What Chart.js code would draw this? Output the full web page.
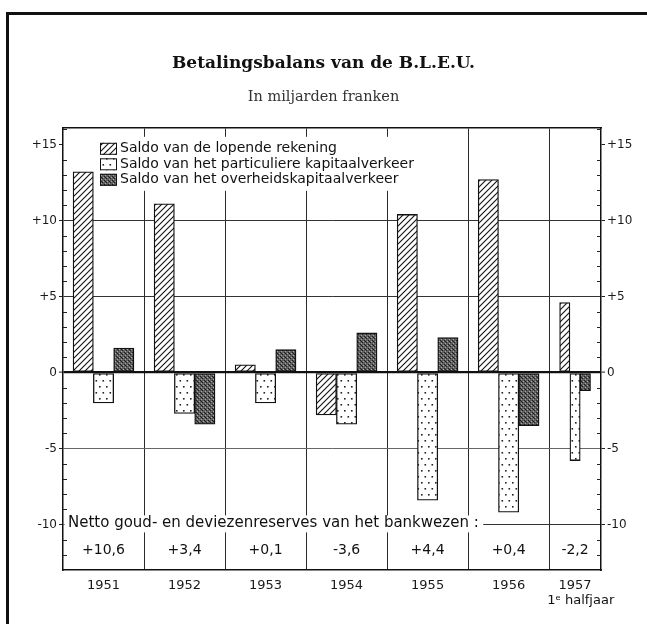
<!DOCTYPE html>
<html><head><meta charset="utf-8">
<script src="https://cdn.jsdelivr.net/npm/chart.js@4/dist/chart.umd.min.js"></script>
<style>html,body{margin:0;padding:0;background:#fff}canvas{display:block}</style>
</head><body>
<canvas id="c" width="647" height="624" style="width:647px;height:624px"></canvas>
<script>
// ---- data ----
const years = ['1951', '1952', '1953', '1954', '1955', '1956', '1957'];
const halfYearNote = '1ᵉ halfjaar';
const isHalfYear = [false, false, false, false, false, false, true];
const lopendeRekening = [13.2, 11.1, 0.5, -2.8, 10.4, 12.7, 4.6];
const particulierKapitaal = [-2.0, -2.7, -2.0, -3.4, -8.4, -9.2, -5.8];
const overheidsKapitaal = [1.6, -3.4, 1.5, 2.6, 2.3, -3.5, -1.2];
const nettoReserves = ['+10,6', '+3,4', '+0,1', '-3,6', '+4,4', '+0,4', '-2,2'];
const seriesNames = ['Saldo van de lopende rekening', 'Saldo van het particuliere kapitaalverkeer', 'Saldo van het overheidskapitaalverkeer'];
const reservesCaption = 'Netto goud- en deviezenreserves van het bankwezen :';
const yTickValues = [-10, -5, 0, 5, 10, 15];
const titleText = 'Betalingsbalans van de B.L.E.U.';
const subtitleText = 'In miljarden franken';

// ---- layout helpers ----
const HALF_COL = 0.64;
const X_MAX = 6 + HALF_COL;
const colCenter = i => isHalfYear[i] ? 6 + HALF_COL / 2 : i + 0.5;
const SANS = '"DejaVu Sans", sans-serif';

const canvas = document.getElementById('c');
const ctx0 = canvas.getContext('2d');
function makePattern(w, h, draw) {
  const c = document.createElement('canvas'); c.width = w; c.height = h;
  const g = c.getContext('2d'); draw(g, w, h);
  return ctx0.createPattern(c, 'repeat');
}
const hatch = makePattern(6, 6, (g, w, h) => {
  g.fillStyle = '#fff'; g.fillRect(0, 0, w, h);
  g.strokeStyle = '#111'; g.lineWidth = 1.1;
  g.beginPath();
  g.moveTo(-1, h + 1); g.lineTo(w + 1, -1);
  g.moveTo(-1, 1); g.lineTo(1, -1);
  g.moveTo(w - 1, h + 1); g.lineTo(w + 1, h - 1);
  g.stroke();
});
const dots = makePattern(7, 12, (g, w, h) => {
  g.fillStyle = '#fff'; g.fillRect(0, 0, w, h);
  g.fillStyle = '#222';
  g.fillRect(1, 2, 1.6, 1.6);
  g.fillRect(4.5, 8, 1.6, 1.6);
});
const dark = makePattern(4, 4, (g, w, h) => {
  g.fillStyle = '#5e5e5e'; g.fillRect(0, 0, w, h);
  g.fillStyle = '#1e1e1e'; g.fillRect(0, 0, 1, 1); g.fillRect(2, 2, 1, 1); g.fillRect(1, 1, 1, 1);
  g.fillStyle = '#a8a8a8'; g.fillRect(1, 3, 1, 1); g.fillRect(3, 1, 1, 1);
});
const fills = [hatch, dots, dark];
const seriesValues = [lopendeRekening, particulierKapitaal, overheidsKapitaal];

const datasets = [];
[false, true].forEach(half => {
  seriesValues.forEach((vals, s) => {
    datasets.push({
      label: seriesNames[s],
      data: years.map((yr, i) => ({ x: colCenter(i), y: isHalfYear[i] === half ? vals[i] : null })),
      backgroundColor: fills[s],
      borderColor: '#111',
      borderWidth: 1.3,
      borderSkipped: false,
      barThickness: half ? 10.3 : 20.3,
      skipNull: true,
      grouped: true
    });
  });
});

const decor = {
  id: 'decor',
  afterDatasetsDraw(chart) {
    const { ctx, chartArea, scales } = chart;
    const y = scales.y, x = scales.x;
    ctx.save();
    // minor ticks inside both axes
    ctx.strokeStyle = '#222'; ctx.lineWidth = 1;
    ctx.beginPath();
    for (let v = -12; v <= 16; v++) {
      if (v % 5 === 0) continue;
      const py = Math.round(y.getPixelForValue(v)) + 0.5;
      ctx.moveTo(chartArea.left, py); ctx.lineTo(chartArea.left + 4, py);
      ctx.moveTo(chartArea.right - 4, py); ctx.lineTo(chartArea.right, py);
    }
    ctx.stroke();
    // caption of reserves row
    const capY = y.getPixelForValue(-10);
    ctx.font = '15px ' + SANS;
    const w = ctx.measureText(reservesCaption).width;
    ctx.fillStyle = '#fff';
    ctx.fillRect(chartArea.left + 1.5, capY - 9, w + 8, 17);
    ctx.fillStyle = '#111'; ctx.textBaseline = 'middle'; ctx.textAlign = 'left';
    ctx.fillText(reservesCaption, chartArea.left + 5, capY - 1);
    // reserves values
    const valY = y.getPixelForValue(-11.7);
    ctx.font = '14px ' + SANS;
    ctx.textAlign = 'center';
    nettoReserves.forEach((t, i) => ctx.fillText(t, x.getPixelForValue(colCenter(i)), valY));
    // legend
    const lx = chartArea.left + 34, ly = chartArea.top + 9;
    ctx.font = '14px ' + SANS;
    let maxW = 0;
    seriesNames.forEach(n => maxW = Math.max(maxW, ctx.measureText(n).width));
    ctx.fillStyle = '#fff';
    ctx.fillRect(lx, ly, maxW + 30, 54);
    seriesNames.forEach((n, s) => {
      const cy = ly + 12 + s * 15.5;
      ctx.fillStyle = fills[s];
      ctx.fillRect(lx + 3, cy - 6, 17, 12);
      ctx.strokeStyle = '#111'; ctx.lineWidth = 1;
      ctx.strokeRect(lx + 3.5, cy - 5.5, 16, 11);
      ctx.fillStyle = '#111'; ctx.textAlign = 'left'; ctx.textBaseline = 'middle';
      ctx.fillText(n, lx + 23, cy);
    });
    // half-year note
    ctx.font = '13px ' + SANS;
    ctx.textAlign = 'left';
    ctx.fillText(halfYearNote, x.getPixelForValue(6) - 2, chartArea.bottom + 31);
    ctx.restore();
  },
  afterDraw(chart) {
    const { ctx } = chart;
    ctx.save();
    ctx.strokeStyle = '#111'; ctx.lineWidth = 3;
    ctx.beginPath();
    ctx.moveTo(7.5, 624); ctx.lineTo(7.5, 13.5); ctx.lineTo(647, 13.5);
    ctx.stroke();
    ctx.restore();
  }
};

const yTickLabel = v => v > 0 ? '+' + v : String(v);
const yAxis = (position) => ({
  type: 'linear', position, min: -13, max: 16.1,
  afterBuildTicks: sc => { sc.ticks = yTickValues.map(v => ({ value: v })); },
  afterFit: sc => { sc.width = position === 'left' ? 63 : 46; },
  ticks: { callback: yTickLabel, color: '#1a1a1a', font: { family: SANS, size: 12 }, padding: 2 },
  grid: {
    drawOnChartArea: position === 'left',
    drawTicks: true, tickLength: 4, tickColor: '#222', tickWidth: 1,
    color: c => {
      const v = c.tick && c.tick.value;
      if (v === 0) return '#111';
      if (v === 15) return 'rgba(0,0,0,0)';
      if (v === -5) return '#666';
      return '#333';
    },
    lineWidth: c => (c.tick && c.tick.value === 0) ? 2.2 : 1
  },
  border: { display: true, color: '#111', width: 1.5 }
});

new Chart(canvas, {
  type: 'bar',
  data: { datasets },
  options: {
    responsive: false, animation: false, devicePixelRatio: 1,
    layout: { padding: 0 },
    plugins: {
      legend: { display: false }, tooltip: { enabled: false },
      title: { display: true, text: titleText, color: '#111', font: { family: '"DejaVu Serif", serif', size: 17, weight: 'bold', lineHeight: 1.2 }, padding: { top: 53, bottom: 15 } },
      subtitle: { display: true, text: subtitleText, color: '#333', font: { family: '"DejaVu Serif", serif', size: 14.5, lineHeight: 1.2 }, padding: { top: 0, bottom: 22 } }
    },
    scales: {
      x: {
        type: 'linear', position: 'bottom', min: 0, max: X_MAX, offset: false,
        afterBuildTicks: sc => { sc.ticks = years.map((y, i) => ({ value: colCenter(i) })); },
        afterFit: sc => { sc.height = 54; },
        ticks: { callback: (v, i) => years[i], color: '#1a1a1a', font: { family: SANS, size: 13 }, padding: 8, autoSkip: false, maxRotation: 0 },
        grid: { display: true, drawOnChartArea: false, drawTicks: false, offset: false, color: 'rgba(0,0,0,0)' },
        border: { display: true, color: '#111', width: 1.5 }
      },
      xg: {
        type: 'linear', position: 'top', min: 0, max: X_MAX, offset: false,
        afterBuildTicks: sc => { sc.ticks = [1, 2, 3, 4, 5, 6].map(v => ({ value: v })); },
        afterFit: sc => { sc.height = 0; },
        ticks: { display: false },
        grid: { display: true, drawOnChartArea: true, drawTicks: false, offset: false, color: '#2a2a2a', lineWidth: 1 },
        border: { display: true, color: '#111', width: 1.5 }
      },
      y: yAxis('left'),
      y2: yAxis('right')
    }
  },
  plugins: [decor]
});
</script>
</body></html>
